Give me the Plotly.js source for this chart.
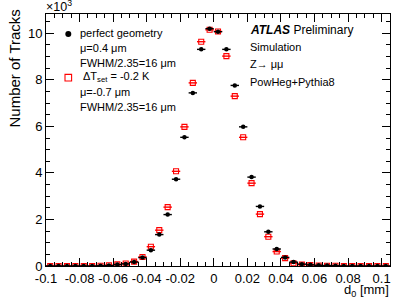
<!DOCTYPE html>
<html>
<head>
<meta charset="utf-8">
<script src="https://cdn.plot.ly/plotly-3.0.1.min.js"></script>
<style>html,body{margin:0;padding:0;background:#fff;}#chart{width:415px;height:299px;}</style>
</head>
<body>
<div id="chart"></div>
<script>
// ---- data ----
const d0Centers = [-0.0975,-0.0925,-0.0875,-0.0825,-0.0775,-0.0725,-0.0675,-0.0625,-0.0575,-0.0525,
  -0.0475,-0.0425,-0.0375,-0.0325,-0.0275,-0.0225,-0.0175,-0.0125,-0.0075,-0.0025,
  0.0025,0.0075,0.0125,0.0175,0.0225,0.0275,0.0325,0.0375,0.0425,0.0475,
  0.0525,0.0575,0.0625,0.0675,0.0725,0.0775,0.0825,0.0875,0.0925,0.0975,0.1025];
const perfectGeometry = [0,0,0,0,0,0,0.01,0.02,0.06,0.09,
  0.17,0.36,0.68,1.35,2.21,3.73,5.53,7.44,9.31,10.2,
  10.07,9.31,7.76,5.98,3.82,2.56,1.47,0.73,0.37,0.17,
  0.08,0.05,0.03,0.02,0.01,0,0,0,0,0,0];
const deltaTset = [0,0,0,0,0,0,0.01,0.03,0.07,0.11,
  0.19,0.39,0.83,1.54,2.53,4.07,5.98,7.87,9.64,10.15,
  10.08,9.02,7.3,5.53,3.56,2.23,1.26,0.62,0.34,0.12,
  0.06,0.04,0.02,0.01,0.01,0,0,0,0,0,0];
const binHalfWidth = 0.0025;
const xTickVals = [-0.1,-0.08,-0.06,-0.04,-0.02,0,0.02,0.04,0.06,0.08,0.1];
const xTickText = ["-0.1","-0.08","-0.06","-0.04","-0.02","0","0.02","0.04","0.06","0.08","0.1"];
const yTickVals = [0,2,4,6,8,10];
const yTickText = ["0","2","4","6","8","10"];

// ---- layout geometry ----
const W = 415, H = 299;
const L = 46, R = 390, T = 14, B = 266;
const PW = R - L, PH = B - T;
const px = x => (x - L) / PW;
const py = y => (B - y) / PH;
const FONT = "Liberation Sans, Arial, Helvetica, sans-serif";

const traces = [
  {
    x: d0Centers, y: deltaTset, type: 'scatter', mode: 'markers',
    marker: {symbol: 'square-open', size: 5, color: '#ff0000', line: {width: 1.1, color: '#ff0000'}},
    error_x: {type: 'constant', value: binHalfWidth, thickness: 1.4, width: 0, color: '#ff0000'},
    showlegend: false, hoverinfo: 'skip'
  },
  {
    x: d0Centers, y: perfectGeometry, type: 'scatter', mode: 'markers',
    marker: {symbol: 'circle', size: 4.5, color: '#000000'},
    error_x: {type: 'constant', value: binHalfWidth, thickness: 1.4, width: 0, color: '#000000'},
    showlegend: false, hoverinfo: 'skip'
  }
];

function txt(text, x, y, size, opts) {
  return Object.assign({
    text: text, xref: 'paper', yref: 'paper', x: px(x), y: py(y),
    xanchor: 'left', yanchor: 'middle', showarrow: false,
    font: {family: FONT, size: size, color: '#000'}
  }, opts || {});
}

const annotations = [
  txt('Number of Tracks', 13.5, 8, 15, {textangle: -90, xanchor: 'center', yanchor: 'top'}),
  txt('×10<sup>3</sup>', 44, 16, 12.5, {yanchor: 'bottom'}),
  txt('d<sub>0</sub> [mm]', 391, 290, 13, {xanchor: 'right'}),
  txt('perfect geometry', 77.5, 33, 11),
  txt('μ=0.4 μm', 77.5, 48, 11),
  txt('FWHM/2.35=16 μm', 77.5, 63, 11),
  txt('ΔT<sub>set</sub> = -0.2 K', 81, 77, 11),
  txt('μ=-0.7 μm', 77.5, 92, 11),
  txt('FWHM/2.35=16 μm', 77.5, 107, 11),
  txt('<b><i>ATLAS</i></b> Preliminary', 247.5, 30, 12),
  txt('Simulation', 247.5, 47, 11),
  txt('Z→ μμ', 247.5, 64.5, 11),
  txt('PowHeg+Pythia8', 247.5, 82, 11)
];

const shapes = [
  {type: 'circle', xref: 'paper', yref: 'paper', x0: px(65.3), x1: px(71.3), y0: py(31), y1: py(37),
   fillcolor: '#000', line: {width: 0}},
  {type: 'rect', xref: 'paper', yref: 'paper', x0: px(65), x1: px(71.6), y0: py(74.4), y1: py(81),
   fillcolor: 'rgba(0,0,0,0)', line: {width: 1.1, color: '#ff0000'}}
];

const axisCommon = {
  showline: true, mirror: 'ticks', linecolor: '#000', linewidth: 1,
  ticks: 'inside', tickcolor: '#000', tickwidth: 1, ticklen: 8,
  showgrid: false, zeroline: false,
  tickfont: {family: FONT, size: 13, color: '#000'}
};

const layout = {
  width: W, height: H,
  margin: {l: L, r: W - R, t: T, b: H - B, pad: 0},
  paper_bgcolor: '#fff', plot_bgcolor: '#fff',
  showlegend: false,
  xaxis: Object.assign({}, axisCommon, {
    range: [-0.1, 0.105], tickmode: 'array', tickvals: xTickVals, ticktext: xTickText,
    minor: {dtick: 0.005, tick0: -0.1, ticks: 'inside', ticklen: 4, tickcolor: '#000', showgrid: false}
  }),
  yaxis: Object.assign({}, axisCommon, {
    range: [0, 10.83], tickmode: 'array', tickvals: yTickVals, ticktext: yTickText,
    minor: {dtick: 0.5, tick0: 0, ticks: 'inside', ticklen: 4, tickcolor: '#000', showgrid: false}
  }),
  annotations: annotations,
  shapes: shapes
};

Plotly.newPlot('chart', traces, layout, {staticPlot: true, displayModeBar: false});
</script>
</body>
</html>
